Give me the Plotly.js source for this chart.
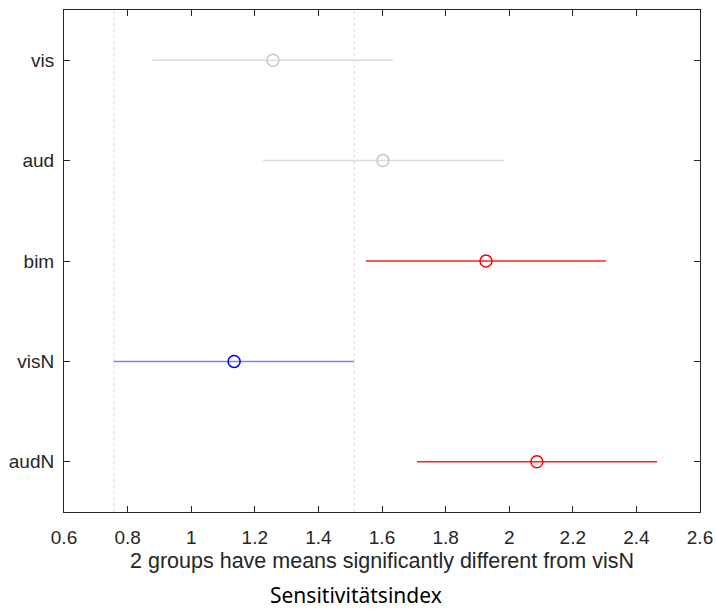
<!DOCTYPE html>
<html>
<head>
<meta charset="utf-8">
<script src="https://cdn.plot.ly/plotly-3.0.1.min.js"></script>
<style>html,body{margin:0;padding:0;background:#fff;}#chart{width:716px;height:610px;}</style>
</head>
<body>
<div id="chart"></div>
<script>
var groups = ["vis", "aud", "bim", "visN", "audN"];
var means  = [1.257, 1.603, 1.927, 1.135, 2.087];
var lower  = [0.878, 1.226, 1.549, 0.757, 1.710];
var upper  = [1.634, 1.984, 2.304, 1.512, 2.465];
var markerColors = ["#c8c8c8", "#c8c8c8", "#ff0000", "#0000ff", "#ff0000"];
var lineColors   = ["#dcdcdc", "#dcdcdc", "#ff2020", "#7f7fff", "#ff2020"];
var xTicks = [0.6, 0.8, 1, 1.2, 1.4, 1.6, 1.8, 2, 2.2, 2.4, 2.6];
var xTickText = ["0.6", "0.8", "1", "1.2", "1.4", "1.6", "1.8", "2", "2.2", "2.4", "2.6"];
var refIndex = 3;

var traces = groups.map(function (g, i) {
  return {
    type: "scatter",
    mode: "markers",
    x: [means[i]],
    y: [g],
    marker: {symbol: "circle-open", size: 12, color: markerColors[i], line: {width: 1.5, color: markerColors[i]}},
    error_x: {type: "data", symmetric: false, array: [upper[i] - means[i]], arrayminus: [means[i] - lower[i]],
              color: lineColors[i], thickness: 1.5, width: 0},
    showlegend: false,
    hoverinfo: "x+y"
  };
});

var shapes = [lower[refIndex], upper[refIndex]].map(function (v) {
  return {type: "line", xref: "x", yref: "paper", x0: v, x1: v, y0: 0, y1: 1,
          line: {color: "#d4d4d4", width: 1, dash: "dot"}, layer: "below"};
});

var axisFont = {family: "Liberation Sans, Arial, sans-serif", size: 19, color: "#262626"};

var layout = {
  width: 716, height: 610,
  margin: {l: 64, r: 16, t: 10, b: 98},
  paper_bgcolor: "#ffffff", plot_bgcolor: "#ffffff",
  font: axisFont,
  xaxis: {
    range: [0.6, 2.6], tickmode: "array", tickvals: xTicks, ticktext: xTickText,
    ticks: "inside", ticklen: 6, tickcolor: "#262626", tickwidth: 1,
    showline: true, linecolor: "#262626", linewidth: 1, mirror: "ticks",
    showgrid: false, zeroline: false, tickfont: axisFont, ticklabelstandoff: 8,
    title: {text: "2 groups have means significantly different from visN",
            font: {family: "Liberation Sans, Arial, sans-serif", size: 21.5, color: "#262626"}, standoff: 6}
  },
  yaxis: {
    type: "category", categoryorder: "array", categoryarray: groups,
    range: [4.5, -0.5],
    ticks: "inside", ticklen: 6, tickcolor: "#262626", tickwidth: 1,
    showline: true, linecolor: "#262626", linewidth: 1, mirror: "ticks",
    showgrid: false, zeroline: false, tickfont: axisFont, ticklabelstandoff: 5
  },
  shapes: shapes,
  annotations: [{
    text: "Sensitivitätsindex", xref: "paper", yref: "paper", x: (356 - 64) / 636, y: -0.1653,
    xanchor: "center", yanchor: "middle", showarrow: false, borderpad: 0,
    font: {family: "Noto Sans, Open Sans, sans-serif", size: 21, color: "#000000"}
  }]
};

Plotly.newPlot("chart", traces, layout, {displayModeBar: false, staticPlot: true});
</script>
</body>
</html>
